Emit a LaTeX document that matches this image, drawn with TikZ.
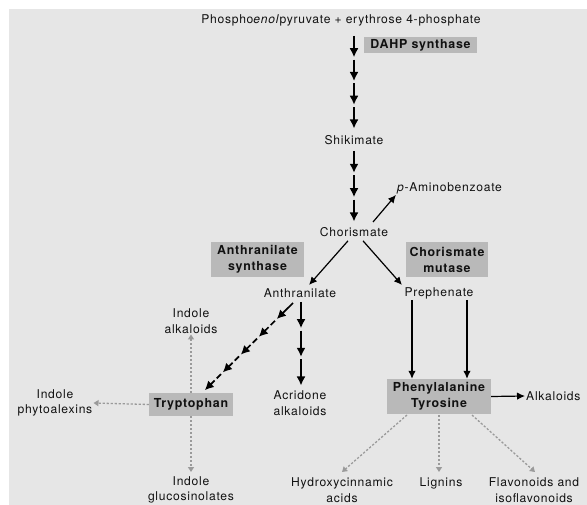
\documentclass[tikz,border=0pt]{standalone}
\usepackage{fontspec}
\setmainfont{TeX Gyre Heros}[LetterSpace=6]
\usetikzlibrary{arrows.meta,calc}
\definecolor{panel}{HTML}{E6E6E6}
\definecolor{boxgray}{HTML}{B9B9B9}
\definecolor{ink}{HTML}{111111}
\definecolor{dotgray}{HTML}{9A9A9A}
\begin{document}
\begin{tikzpicture}[x=1pt,y=-1pt,
  every node/.style={font=\fontsize{12.1}{15.5}\selectfont, text=ink, inner sep=1pt},
  label/.style={align=center},
  enzyme/.style={fill=boxgray, font=\fontsize{12.4}{16}\selectfont\bfseries, align=center, inner sep=0pt},
  chainarrow/.style={line width=1.7pt, -{Latex[length=9pt,width=9pt]}, shorten >=2.5pt},
  thinarrow/.style={line width=1.2pt, -{Latex[length=8pt,width=7.5pt]}},
  fate/.style={dotgray, line width=1.3pt, dash pattern=on 2.2pt off 1.8pt, -{Triangle[length=5pt,width=6pt]}}]
\useasboundingbox (0,0) rectangle (587,505);
\fill[white] (0,0) rectangle (587,505);
\fill[panel] (9,9) rectangle (587,505);

% metabolites
\node (pep) at (341,20) {Phospho\textit{enol}pyruvate + erythrose 4-phosphate};
\node (shik) at (354,140) {Shikimate};
\node (chor) at (354,232) {Chorismate};
\node[anchor=west] (pab) at (396,188) {\textit{p}-Aminobenzoate};
\node (anth) at (300,293) {Anthranilate};
\node (preph) at (439,293) {Prephenate};
\node[label] (indalk) at (191,321) {Indole\\alkaloids};
\node[label] (phyto) at (55,403) {Indole\\phytoalexins};
\node[label] (gluc) at (191,490) {Indole\\glucosinolates};
\node[label] (acrid) at (300,403) {Acridone\\alkaloids};
\node[anchor=west] (alk) at (525,396) {Alkaloids};
\node[label] (hca) at (342,490) {Hydroxycinnamic\\acids};
\node (lign) at (441,483) {Lignins};
\node[label] (flav) at (534,490) {Flavonoids and\\isoflavonoids};

% enzymes and key amino acids
\node[enzyme, minimum width=113pt, minimum height=16pt] (dahp) at (420.5,45) {DAHP synthase};
\node[enzyme, minimum width=93pt, minimum height=35pt] (asyn) at (257.5,259.5) {Anthranilate\\synthase};
\node[enzyme, minimum width=82pt, minimum height=35pt] (cmut) at (447,259.5) {Chorismate\\mutase};
\node[enzyme, minimum width=84pt, minimum height=23pt] (trp) at (191,404.5) {Tryptophan};
\node[enzyme, minimum width=104pt, minimum height=35pt] (phe) at (439,396.5) {Phenylalanine\\Tyrosine};

% multi-step chains
\coordinate (m0) at (354,36);
\coordinate (m1) at (354,131);
\foreach \k in {1,...,4}
  \draw[chainarrow] ($(m0)!{(\k-1)/4}!(m1)$) -- ($(m0)!{\k/4}!(m1)$);
\coordinate (s0) at (354,151);
\coordinate (s1) at (354,224);
\foreach \k in {1,...,3}
  \draw[chainarrow] ($(s0)!{(\k-1)/3}!(s1)$) -- ($(s0)!{\k/3}!(s1)$);
\coordinate (a0) at (301,302);
\coordinate (a1) at (301,388);
\foreach \k in {1,...,3}
  \draw[chainarrow] ($(a0)!{(\k-1)/3}!(a1)$) -- ($(a0)!{\k/3}!(a1)$);
\coordinate (t0) at (293,303);
\coordinate (t1) at (203,392);
\draw[chainarrow] (t0) -- ($(t0)!0.2!(t1)$);
\foreach \k in {2,...,5}
  \draw[chainarrow, dash pattern=on 6pt off 3pt] ($(t0)!{(\k-1)/5}!(t1)$) -- ($(t0)!{\k/5}!(t1)$);

% single steps
\draw[thinarrow] (373,222) -- (pab.south west);
\draw[thinarrow] (chor.south) ++(-6,3) -- (309,285);
\draw[thinarrow] (chor.south) ++(9,3) -- (402,285);
\draw[thinarrow] (preph.south -| 412,0) -- (phe.north -| 412,0);
\draw[thinarrow] (preph.south -| 467,0) -- (phe.north -| 467,0);
\draw[thinarrow] (phe.east) -- (alk.west);

% downstream products
\draw[fate] (trp.north) -- (indalk.south);
\draw[fate] (trp.west) -- (phyto.east);
\draw[fate] (trp.south) -- (191,472);
\draw[fate] (407,415) -- (342,472);
\draw[fate] (439,415) -- (439,472);
\draw[fate] (472,415) -- (535,472);
\end{tikzpicture}
\end{document}
